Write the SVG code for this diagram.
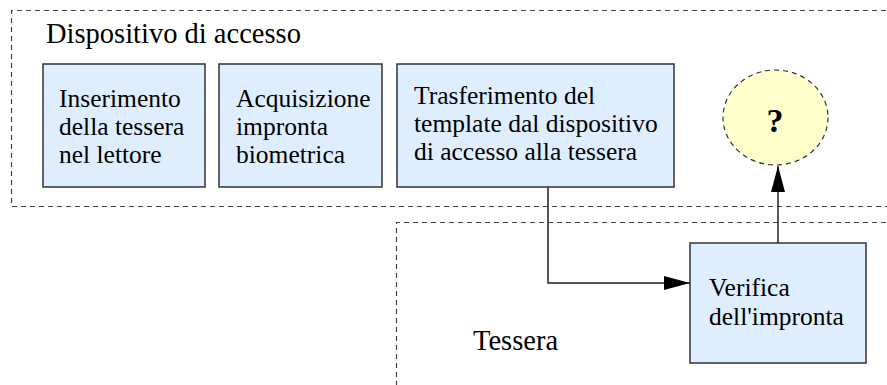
<svg xmlns="http://www.w3.org/2000/svg" width="887" height="385" viewBox="0 0 887 385">
<style>
.box{fill:#deeeff;stroke:#333;stroke-width:1.5}
.t{font-family:'Liberation Serif','Times New Roman',serif;font-size:25.5px;fill:#000}
.big{font-family:'Liberation Serif','Times New Roman',serif;font-size:28.5px;fill:#000}
.area{fill:none;stroke:#444;stroke-width:1.2;stroke-dasharray:5,4}
.conn{fill:none;stroke:#222;stroke-width:1.5}
</style>
<defs>
<marker id="ah" markerWidth="26" markerHeight="14" refX="26" refY="7" orient="auto" markerUnits="userSpaceOnUse">
<path d="M0,0 L26,7 L0,14 Z" fill="#000"/>
</marker>
</defs>
<rect width="887" height="385" fill="#fff"/>
<g id="dispositivo">
<path class="area" d="M895,10.5 H11.5 V206.5 H895"/>
<text class="big" x="46" y="43">Dispositivo di accesso</text>
</g>
<g id="tessera">
<path class="area" d="M396.5,395 V222.5 H895"/>
<text class="big" x="473" y="350">Tessera</text>
</g>
<g id="inserimento">
<rect class="box" x="43" y="64" width="162" height="123"/>
<text class="t" x="59" y="107">Inserimento</text>
<text class="t" x="59" y="135">della tessera</text>
<text class="t" x="59" y="163">nel lettore</text>
</g>
<g id="acquisizione">
<rect class="box" x="219" y="64" width="163" height="123"/>
<text class="t" x="236" y="107">Acquisizione</text>
<text class="t" x="236" y="135">impronta</text>
<text class="t" x="236" y="163">biometrica</text>
</g>
<g id="trasferimento">
<rect class="box" x="397" y="64" width="277" height="123"/>
<text class="t" x="414" y="104">Trasferimento del</text>
<text class="t" x="414" y="132">template dal dispositivo</text>
<text class="t" x="414" y="160">di accesso alla tessera</text>
</g>
<g id="domanda">
<ellipse cx="775.5" cy="117.5" rx="52.5" ry="47.5" fill="#ffffcc" stroke="#333" stroke-width="1.2" stroke-dasharray="5,4"/>
<text x="775" y="131.5" text-anchor="middle" font-family="'Liberation Serif',serif" font-size="34px" font-weight="bold">?</text>
</g>
<g id="verifica">
<rect class="box" x="690" y="243" width="176" height="120"/>
<text class="t" x="709" y="296">Verifica</text>
<text class="t" x="709" y="325">dell'impronta</text>
</g>
<g id="connectors">
<path class="conn" d="M548,187 V283 H690" marker-end="url(#ah)"/>
<path class="conn" d="M778,243 V166" marker-end="url(#ah)"/>
</g>
</svg>
